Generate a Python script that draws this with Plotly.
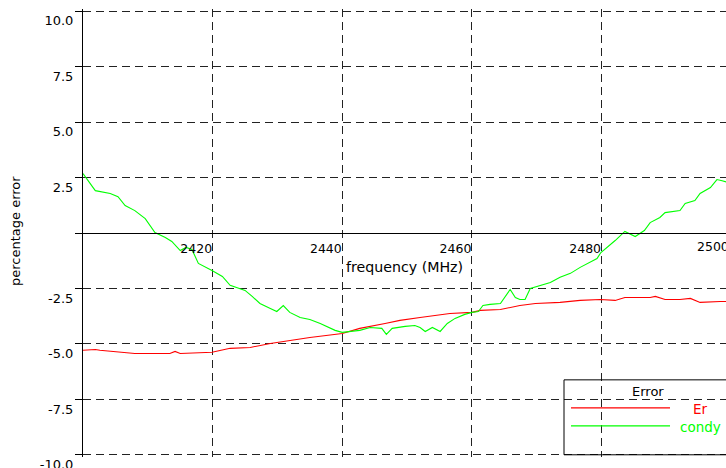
import plotly.graph_objects as go

# ---------------- data ----------------
freq_er = [2400.0, 2401.9, 2402.6, 2404.2, 2408.0, 2413.4, 2414.2, 2415.0, 2419.9, 2422.7,
           2425.8, 2428.9, 2431.9, 2435.0, 2440.0, 2442.7, 2446.6, 2448.9, 2452.0, 2456.6,
           2460.0, 2461.3, 2464.4, 2467.4, 2469.8, 2473.6, 2476.7, 2479.8, 2482.1, 2483.6,
           2487.5, 2488.3, 2489.8, 2492.1, 2493.7, 2495.2, 2498.3, 2499.6]
err_er = [-5.29, -5.25, -5.29, -5.34, -5.43, -5.43, -5.34, -5.43, -5.38, -5.20,
          -5.16, -4.98, -4.84, -4.71, -4.53, -4.30, -4.08, -3.94, -3.81, -3.63,
          -3.58, -3.49, -3.45, -3.27, -3.18, -3.13, -3.04, -3.00, -3.04, -2.91,
          -2.91, -2.86, -3.00, -3.00, -2.95, -3.13, -3.09, -3.09]

freq_condy = [2400.0, 2400.8, 2401.9, 2404.2, 2405.4, 2406.5, 2408.0, 2409.6, 2411.1, 2412.7,
              2413.7, 2415.0, 2415.9, 2416.8, 2417.8, 2419.9, 2421.5, 2422.7, 2425.0, 2426.1,
              2427.3, 2428.9, 2429.9, 2430.9, 2431.9, 2433.5, 2435.0, 2436.6, 2438.1, 2438.9,
              2440.0, 2441.2, 2442.7, 2444.3, 2446.1, 2446.8, 2447.7, 2449.7, 2451.2, 2452.0,
              2452.8, 2453.9, 2455.1, 2456.2, 2457.4, 2458.9, 2460.0, 2461.0, 2461.7, 2462.8,
              2464.4, 2465.9, 2466.7, 2467.4, 2468.2, 2469.0, 2470.5, 2472.1, 2473.6, 2475.2,
              2476.7, 2478.2, 2479.3, 2479.9, 2481.3, 2482.1, 2483.6, 2485.2, 2486.6, 2487.5,
              2489.0, 2489.8, 2492.1, 2492.9, 2494.4, 2495.2, 2496.8, 2497.8, 2498.6, 2499.6]
err_condy = [2.68, 2.36, 1.91, 1.78, 1.64, 1.24, 1.01, 0.65, 0.02, -0.20,
             -0.38, -0.79, -0.65, -0.74, -1.37, -1.69, -1.96, -2.36, -2.59, -2.86,
             -3.18, -3.40, -3.54, -3.27, -3.58, -3.81, -3.90, -4.08, -4.30, -4.39,
             -4.48, -4.44, -4.39, -4.26, -4.30, -4.57, -4.30, -4.21, -4.17, -4.26,
             -4.44, -4.26, -4.44, -4.08, -3.85, -3.67, -3.58, -3.54, -3.27, -3.22,
             -3.18, -2.55, -2.91, -3.00, -3.00, -2.50, -2.36, -2.23, -2.00, -1.82,
             -1.55, -1.33, -1.15, -0.88, -0.56, -0.34, 0.07, -0.16, 0.11, 0.47,
             0.70, 0.92, 1.01, 1.33, 1.46, 1.78, 2.05, 2.41, 2.36, 2.27]

series_names = ["Er", "condy"]
series_colors = ["#ff0000", "#00ff00"]
legend_title = "Error"

x_ticks = [2420, 2440, 2460, 2480, 2500]
x_tick_text = ["2420", "2440", "2460", "2480", "2500"]
y_ticks = [-10, -7.5, -5, -2.5, 0, 2.5, 5, 7.5, 10]
y_tick_text = ["-10.0", "-7.5", "-5.0", "-2.5", "", "2.5", "5.0", "7.5", "10.0"]
x_title = "frequency (MHz)"
y_title = "percentage error"
x_range = [2400, 2499.2]
y_pad = 0.1
y_range = [-10 - y_pad, 10 + y_pad]

# ---------------- layout helpers ----------------
W, H = 726, 468
TOP_PX, BOT_PX = 11, 455          # pixel rows of y = +10 and y = -10
unit_px = (BOT_PX - TOP_PX) / 20.0
ML, MR = 83, 0
MT = TOP_PX - y_pad * unit_px
MB = H - BOT_PX - y_pad * unit_px
PW, PH = W - ML - MR, H - MT - MB
FONT = "DejaVu Sans"
GRID_DASH = "8px,5px"


def px(xp):
    return (xp - ML) / PW


def py(yp):
    return (H - MB - yp) / PH


fig = go.Figure()
fig.add_trace(go.Scatter(x=freq_er, y=err_er, mode="lines", name=series_names[0],
                         line=dict(color=series_colors[0], width=1.1), showlegend=False))
fig.add_trace(go.Scatter(x=freq_condy, y=err_condy, mode="lines", name=series_names[1],
                         line=dict(color=series_colors[1], width=1.1), showlegend=False))

fig.update_layout(
    width=W, height=H,
    margin=dict(l=ML, r=MR, t=MT, b=MB, pad=0),
    paper_bgcolor="white", plot_bgcolor="white",
    font=dict(family=FONT, size=12.5, color="black"),
    showlegend=False,
    xaxis=dict(
        range=x_range, anchor="free", position=0.5,
        tickvals=x_ticks, ticktext=x_tick_text,
        ticklabelposition="outside left", ticks="", ticklabelstandoff=4,
        showline=True, linecolor="black", linewidth=1,
        showgrid=True, gridcolor="#222", gridwidth=1, griddash=GRID_DASH,
        zeroline=False, tickfont=dict(size=12.5), automargin=False,
    ),
    yaxis=dict(
        range=y_range,
        tickvals=y_ticks, ticktext=y_tick_text,
        ticks="outside", ticklen=7, tickcolor="black", tickwidth=1,
        ticklabelposition="outside bottom", ticklabelstandoff=6,
        ticklabeloverflow="allow",
        showline=True, linecolor="black", linewidth=1,
        showgrid=True, gridcolor="#222", gridwidth=1, griddash=GRID_DASH,
        zeroline=False, tickfont=dict(size=13), automargin=False,
    ),
)

annotations = []
# tick label beyond visible range (cut off by window edge)
annotations.append(dict(
    text=x_tick_text[-1], xref="paper", yref="y",
    x=(x_ticks[-1] - x_range[0]) / (x_range[1] - x_range[0]), y=0,
    xanchor="right", yanchor="top", yshift=-4, showarrow=False,
    font=dict(family=FONT, size=12.5, color="black")))
# axis titles
annotations.append(dict(
    text=x_title, xref="x", yref="y", x=x_ticks[1], y=0,
    xanchor="left", yanchor="middle", xshift=2, yshift=-34, showarrow=False,
    font=dict(family=FONT, size=14.2, color="black")))
annotations.append(dict(
    text=y_title, xref="paper", yref="paper", x=px(15), y=py(231),
    xanchor="center", yanchor="middle", textangle=-90, showarrow=False,
    font=dict(family=FONT, size=13, color="black")))

# legend (drawn by hand)
shapes = [dict(type="rect", xref="paper", yref="paper",
               x0=px(564), x1=px(740), y0=py(455), y1=py(380),
               line=dict(color="black", width=1), fillcolor="rgba(0,0,0,0)", layer="above")]
annotations.append(dict(
    text=legend_title, xref="paper", yref="paper", x=px(648), y=py(392),
    xanchor="center", yanchor="middle", showarrow=False,
    font=dict(family=FONT, size=13, color="black")))
for i, (nm, col) in enumerate(zip(series_names, series_colors)):
    yl = 408 + i * 18
    shapes.append(dict(type="line", xref="paper", yref="paper",
                       x0=px(571), x1=px(670), y0=py(yl), y1=py(yl),
                       line=dict(color=col, width=1.2), layer="above"))
    annotations.append(dict(
        text=nm, xref="paper", yref="paper", x=px(700), y=py(yl + 1),
        xanchor="center", yanchor="middle", showarrow=False,
        font=dict(family=FONT, size=13.5, color=col)))

fig.update_layout(annotations=annotations, shapes=shapes)

fig.write_html("out.html", config={"displayModeBar": False},
               post_script="document.body.style.margin='0';document.body.style.overflow='hidden';")
